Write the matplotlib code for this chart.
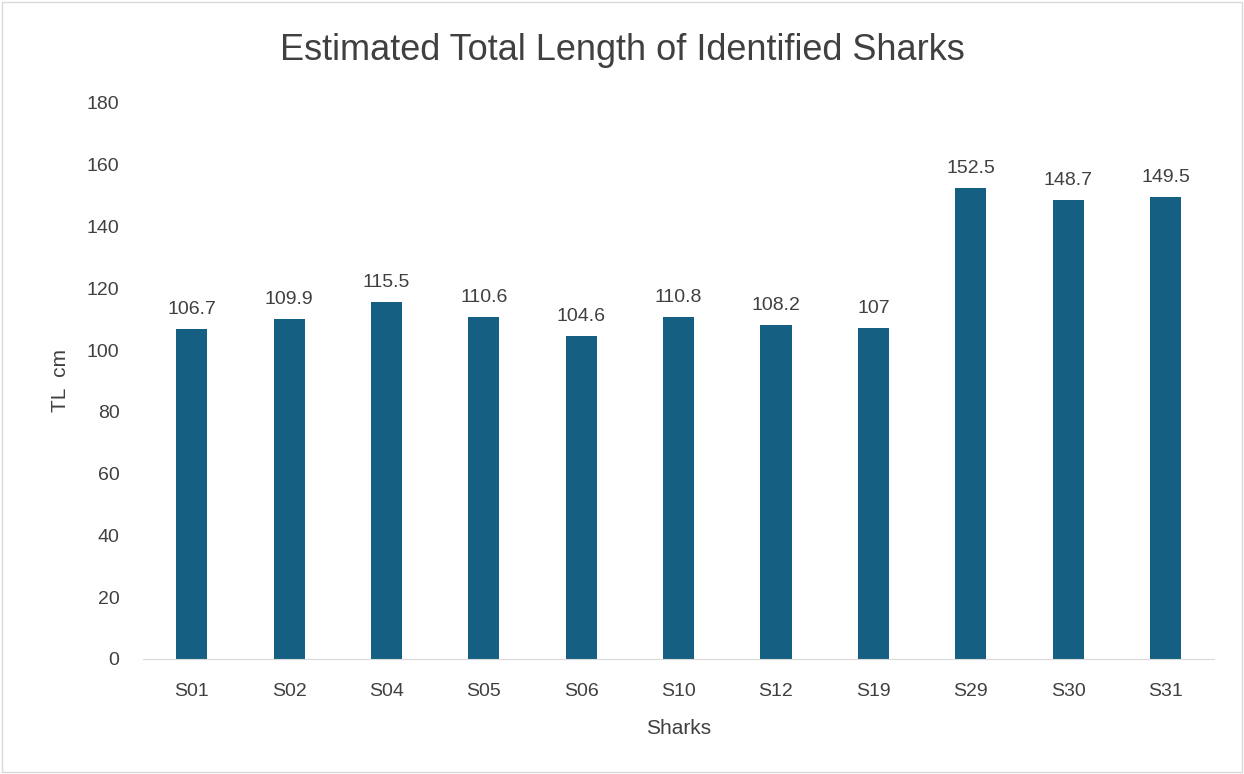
import matplotlib
matplotlib.use("Agg")
import matplotlib.pyplot as plt
from matplotlib.patches import Rectangle

sharks = ["S01", "S02", "S04", "S05", "S06", "S10", "S12", "S19", "S29", "S30", "S31"]
lengths = [106.7, 109.9, 115.5, 110.6, 104.6, 110.8, 108.2, 107, 152.5, 148.7, 149.5]
labels = ["106.7", "109.9", "115.5", "110.6", "104.6", "110.8", "108.2", "107", "152.5", "148.7", "149.5"]

plt.rcParams['font.family'] = ['Liberation Sans', 'DejaVu Sans']
txt = '#404040'

fig = plt.figure(figsize=(12.44, 7.74), dpi=100)
ax = fig.add_axes([0.115, 0.1486, 0.861, 0.7184])
x = range(len(sharks))
bars = ax.bar(x, lengths, width=0.32, color='#156082')
for b, l in zip(bars, labels):
    ax.annotate(l, (b.get_x() + b.get_width() / 2, b.get_height()), xytext=(0, 8),
                textcoords='offset points', ha='center', va='bottom', fontsize=14, color=txt)
ax.set_xlim(-0.5, len(sharks) - 0.5)
ax.set_ylim(0, 180)
ax.set_yticks(range(0, 181, 20))
ax.set_xticks(list(x))
ax.set_xticklabels(sharks)
ax.tick_params(axis='both', length=0, labelsize=14, labelcolor=txt)
ax.tick_params(axis='x', pad=17)
ax.tick_params(axis='y', pad=17)
for s in ['top', 'right', 'left']:
    ax.spines[s].set_visible(False)
ax.spines['bottom'].set_color('#d9d9d9')
ax.set_xlabel('Sharks', fontsize=15, color=txt, labelpad=14)
ax.set_ylabel('TL  cm', fontsize=15, color=txt, labelpad=12)
fig.suptitle('Estimated Total Length of Identified Sharks', fontsize=26, color=txt, y=0.957)
fig.patches.append(Rectangle((0.002, 0.002), 0.996, 0.996, transform=fig.transFigure,
                             fill=False, edgecolor='#d9d9d9', linewidth=1))
fig.savefig('out.png', dpi=100)
